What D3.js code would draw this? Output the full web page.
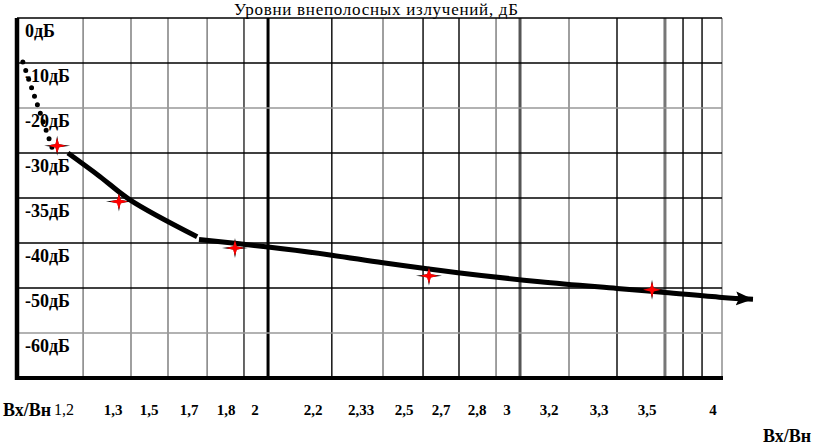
<!DOCTYPE html>
<html><head><meta charset="utf-8">
<script src="https://cdn.jsdelivr.net/npm/d3@7"></script>
<style>html,body{margin:0;padding:0;background:#fff}svg{display:block}</style>
</head><body>
<svg id="c" width="815" height="445"></svg>
<script>
// ---- data ----
const title = "Уровни внеполосных излучений, дБ";
const yTickValues = [0, -10, -20, -30, -35, -40, -50, -60, -70];
const yTickLabels = ["0дБ", "-10дБ", "-20дБ", "-30дБ", "-35дБ", "-40дБ", "-50дБ", "-60дБ", ""];
const xTickValues = [1.2, 1.3, 1.5, 1.7, 1.8, 2, 2.2, 2.33, 2.5, 2.7, 2.8, 3, 3.2, 3.3, 3.5, 4];
const xTickLabels = ["1,2", "1,3", "1,5", "1,7", "1,8", "2", "2,2", "2,33", "2,5", "2,7", "2,8", "3", "3,2", "3,3", "3,5", "4"];
const xGridValues = [1.239, 1.400, 1.595, 1.749, 1.924, 2.045, 2.251, 2.417, 2.603, 2.750, 2.927, 3.062, 3.240, 3.375, 3.636, 3.773, 3.917];
const xAxisName = "Вх/Вн";
// measured points (stars)
const pointX = [1.186, 1.333, 1.862, 2.635, 3.538];
const pointY = [-28.4, -35.4, -41.1, -47.3, -50.4];
// approximation curve, steep part
const curve1X = [1.208, 1.273, 1.394, 1.722];
const curve1Y = [-30.0, -32.6, -35.2, -39.3];
// approximation curve, flat part (ends with arrow)
const curve2X = [1.727, 2.045, 2.251, 2.417, 2.747, 3.157, 3.375, 3.636, 4.068, 4.303];
const curve2Y = [-39.6, -40.9, -42.7, -44.4, -46.6, -48.6, -50.1, -51.0, -52.1, -52.5];
// dotted extrapolation
const dotX = [1.116, 1.176];
const dotY = [-9.8, -28.9];

// ---- layout ----
const L = 17, T = 18, R = 722, B = 378;
const xTickPx = [64, 113, 149, 189, 226, 255, 313, 361, 404, 441, 477, 507, 549, 599, 647, 713];
const FONT = '"Liberation Serif"';

const svg = d3.select("#c");
const x = d3.scaleLinear().domain(xTickValues).range(xTickPx);
const y = d3.scaleLinear().domain(yTickValues)
  .range(yTickValues.map((d, i) => T + i * (B - T) / (yTickValues.length - 1)));

// vertical grid styles
const vStyle = [
  ["#888",1.6],["#888",1.6],["#888",1.6],["#888",1.6],["#000",1.2],["#000",3],
  ["#000",1.4],["#888",1.6],["#000",1.4],["#000",1.4],["#888",1.6],["#555",3],
  ["#888",1.6],["#000",1.4],["#777",3],["#000",1.4],["#000",1.4]
];
const hStyle = [["#000",1.5],["#000",1.5],["#999",1.5],["#000",1.5],["#000",1.5],["#000",1.5],["#000",1.5],["#999",1.5]];

const g = svg.append("g");
// right border
g.append("line").attr("x1", R).attr("x2", R).attr("y1", T).attr("y2", B)
  .attr("stroke", "#aaa").attr("stroke-width", 2);
g.selectAll("line.v").data(xGridValues).join("line").attr("class","v")
  .attr("x1", d => x(d)).attr("x2", d => x(d)).attr("y1", T).attr("y2", B)
  .attr("stroke", (d,i) => vStyle[i][0]).attr("stroke-width", (d,i) => vStyle[i][1]);
g.selectAll("line.h").data(yTickValues.slice(0, 8)).join("line").attr("class","h")
  .attr("x1", L).attr("x2", R).attr("y1", d => y(d)).attr("y2", d => y(d))
  .attr("stroke", (d,i) => hStyle[i][0]).attr("stroke-width", (d,i) => hStyle[i][1]);
// bottom & left thick borders
g.append("line").attr("x1", L - 2).attr("x2", R + 1).attr("y1", y(-70)).attr("y2", y(-70))
  .attr("stroke", "#000").attr("stroke-width", 4);
g.append("line").attr("x1", L).attr("x2", L).attr("y1", T).attr("y2", y(-70) + 2)
  .attr("stroke", "#000").attr("stroke-width", 4.5);

// y labels
g.selectAll("text.yl").data(yTickValues.slice(0, 8)).join("text").attr("class","yl")
  .attr("x", 25).attr("y", d => y(d) + 19)
  .style("font-family", FONT).style("font-weight", "bold").style("font-size", "18px")
  .text((d, i) => yTickLabels[i]);

// x labels
g.selectAll("text.xl").data(xTickValues).join("text").attr("class","xl")
  .attr("x", d => x(d)).attr("y", 415).attr("text-anchor", "middle")
  .style("font-family", FONT).style("font-weight", (d,i) => i === 0 ? "normal" : "bold")
  .style("font-size", (d,i) => i === 0 ? "16px" : "15px")
  .text((d, i) => xTickLabels[i]);
svg.append("text").attr("x", 3).attr("y", 416)
  .style("font-family", FONT).style("font-weight", "bold").style("font-size", "18px").text(xAxisName);
svg.append("text").attr("x", 763).attr("y", 442)
  .style("font-family", FONT).style("font-weight", "bold").style("font-size", "18px").text(xAxisName);

// title
svg.append("text").attr("x", 376).attr("y", 15).attr("text-anchor", "middle")
  .attr("textLength", 284).attr("lengthAdjust", "spacing")
  .style("font-family", FONT).style("font-size", "17px").text(title);

// dotted extrapolation
svg.append("path").datum(dotX.map((d, i) => [d, dotY[i]]))
  .attr("d", d3.line().x(d => x(d[0])).y(d => y(d[1])))
  .attr("fill", "none").attr("stroke", "#000").attr("stroke-width", 5)
  .attr("stroke-linecap", "round").attr("stroke-dasharray", "0,9");

// arrow marker
svg.append("defs").append("marker").attr("id", "arr")
  .attr("markerUnits", "userSpaceOnUse").attr("markerWidth", 20).attr("markerHeight", 16)
  .attr("refX", 17).attr("refY", 7).attr("orient", "auto")
  .append("path").attr("d", "M0,0 L17,7 L0,14 L3,7 Z").attr("fill", "#000");

const lineGen = d3.line().x(d => x(d[0])).y(d => y(d[1])).curve(d3.curveCatmullRom);
svg.append("path").datum(curve1X.map((d, i) => [d, curve1Y[i]]))
  .attr("d", lineGen).attr("fill", "none").attr("stroke", "#000").attr("stroke-width", 5);
svg.append("path").datum(curve2X.map((d, i) => [d, curve2Y[i]]))
  .attr("d", lineGen).attr("fill", "none").attr("stroke", "#000").attr("stroke-width", 5)
  .attr("marker-end", "url(#arr)");

// stars
const starBlack = "M-13,0 L-1.5,-1.5 L0,-10 L1.5,-1.5 L13,0 L1.5,1.5 L0,10 L-1.5,1.5 Z";
const starRed = "M-9,0 L-1.8,-1.8 L0,-8 L1.8,-1.8 L9,0 L1.8,1.8 L0,8 L-1.8,1.8 Z";
const sg = svg.selectAll("g.star").data(pointX.map((d, i) => [d, pointY[i]])).join("g")
  .attr("class","star").attr("transform", d => `translate(${x(d[0])},${y(d[1])})`);
sg.append("path").attr("d", starBlack).attr("fill", "#000");
sg.append("path").attr("d", starRed).attr("fill", "#f00");
</script>
</body></html>
